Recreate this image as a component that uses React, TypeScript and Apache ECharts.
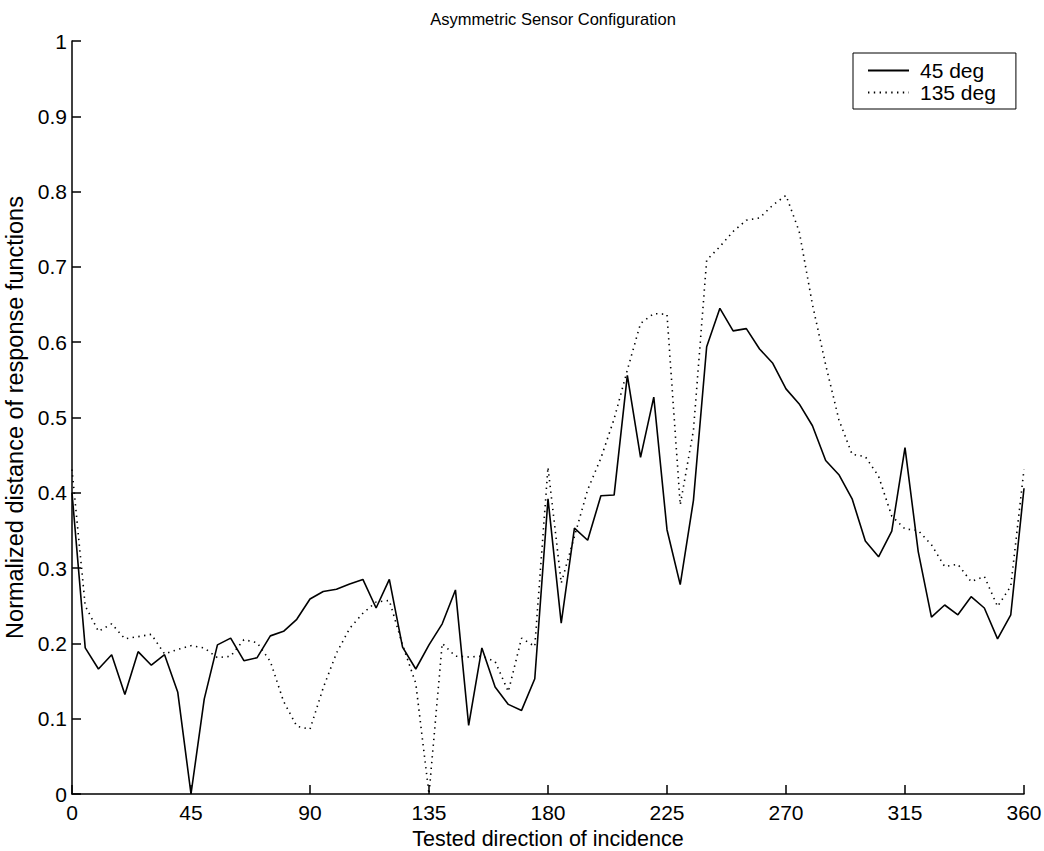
import { useRef, useEffect } from 'react';
import * as echarts from 'echarts';

// Tested direction of incidence (degrees)
const angles = [
  0, 5, 10, 15, 20, 25, 30, 35, 40, 45, 50, 55, 60, 65, 70, 75, 80, 85, 90, 95,
  100, 105, 110, 115, 120, 125, 130, 135, 140, 145, 150, 155, 160, 165, 170, 175,
  180, 185, 190, 195, 200, 205, 210, 215, 220, 225, 230, 235, 240, 245, 250, 255,
  260, 265, 270, 275, 280, 285, 290, 295, 300, 305, 310, 315, 320, 325, 330, 335,
  340, 345, 350, 355, 360,
];

// 45 deg sensor (solid)
const deg45 = [
  0.4, 0.194, 0.166, 0.185, 0.132, 0.189, 0.171, 0.185, 0.135, 0.0,
  0.126, 0.198, 0.207, 0.177, 0.181, 0.21, 0.216, 0.232, 0.259, 0.269,
  0.272, 0.279, 0.285, 0.247, 0.285, 0.195, 0.166, 0.198, 0.226, 0.271,
  0.091, 0.194, 0.142, 0.119, 0.111, 0.153, 0.392, 0.227, 0.353, 0.337,
  0.396, 0.397, 0.556, 0.447, 0.527, 0.351, 0.278, 0.39, 0.594, 0.645,
  0.615, 0.618, 0.591, 0.572, 0.538, 0.518, 0.489, 0.443, 0.424, 0.392,
  0.336, 0.315, 0.349, 0.46, 0.322, 0.235, 0.251, 0.238, 0.262, 0.247,
  0.206, 0.238, 0.406,
];

// 135 deg sensor (dotted)
const deg135 = [
  0.431, 0.25, 0.216, 0.226, 0.206, 0.209, 0.212, 0.186, 0.192, 0.197,
  0.194, 0.181, 0.183, 0.205, 0.201, 0.176, 0.123, 0.09, 0.086, 0.141,
  0.187, 0.22, 0.24, 0.255, 0.257, 0.198, 0.147, 0.0, 0.2, 0.183,
  0.182, 0.183, 0.176, 0.136, 0.207, 0.196, 0.434, 0.28, 0.342, 0.404,
  0.446, 0.498, 0.563, 0.625, 0.638, 0.637, 0.384, 0.483, 0.709, 0.727,
  0.747, 0.762, 0.765, 0.782, 0.795, 0.747, 0.65, 0.57, 0.497, 0.451,
  0.448, 0.422, 0.369, 0.352, 0.35, 0.331, 0.302, 0.305, 0.282, 0.289,
  0.249, 0.276, 0.431,
];

const FONT = 'Liberation Sans, Arial, Helvetica, sans-serif';

export default function App() {
  const chartRef = useRef<HTMLDivElement>(null);

  useEffect(() => {
    if (!chartRef.current) return;
    const chart = echarts.init(chartRef.current, undefined, { renderer: 'svg' });

    const option: any = {
      animation: false,
      backgroundColor: '#fff',
      title: {
        text: 'Asymmetric Sensor Configuration',
        left: 548,
        top: 5,
        textAlign: 'center',
        textStyle: { fontFamily: FONT, fontSize: 16.5, fontWeight: 'normal', color: '#000' },
      },
      grid: { left: 72, right: 20, top: 41, bottom: 57, outerBoundsMode: 'none', containLabel: false },
      legend: {
        left: 853,
        top: 53,
        orient: 'vertical',
        itemWidth: 41,
        itemHeight: 1,
        itemGap: 1,
        padding: [7, 20, 6, 14],
        borderColor: '#000',
        borderWidth: 1,
        backgroundColor: '#fff',
        itemStyle: { opacity: 0, borderWidth: 0 },
        textStyle: { fontFamily: FONT, fontSize: 21, color: '#000', padding: [0, 0, 0, 6] },
        data: ['45 deg', '135 deg'],
      },
      xAxis: {
        type: 'value',
        min: 0,
        max: 360,
        interval: 45,
        name: 'Tested direction of incidence',
        nameLocation: 'middle',
        nameGap: 31,
        nameTextStyle: { fontFamily: FONT, fontSize: 21.5, color: '#000' },
        axisLine: { lineStyle: { color: '#000', width: 1.5 } },
        axisTick: { inside: true, length: 9, lineStyle: { color: '#000', width: 1.5 } },
        axisLabel: { fontFamily: FONT, fontSize: 21, color: '#000', margin: 8 },
        splitLine: { show: false },
      },
      yAxis: {
        type: 'value',
        min: 0,
        max: 1,
        interval: 0.1,
        name: 'Normalized distance of response functions',
        nameLocation: 'middle',
        nameGap: 42,
        nameTextStyle: { fontFamily: FONT, fontSize: 23.5, color: '#000' },
        axisLine: { show: true, lineStyle: { color: '#000', width: 1.5 } },
        axisTick: { show: true, inside: true, length: 9, lineStyle: { color: '#000', width: 1.5 } },
        axisLabel: { fontFamily: FONT, fontSize: 21, color: '#000', margin: 5 },
        splitLine: { show: false },
      },
      series: [
        {
          name: '45 deg',
          type: 'line',
          symbol: 'none',
          data: angles.map((a, i) => [a, deg45[i]]),
          lineStyle: { color: '#000', width: 1.6, type: 'solid' },
          itemStyle: { color: '#000' },
        },
        {
          name: '135 deg',
          type: 'line',
          symbol: 'none',
          data: angles.map((a, i) => [a, deg135[i]]),
          lineStyle: { color: '#000', width: 1.6, type: [1.4, 4.4] },
          itemStyle: { color: '#000' },
        },
      ],
    };

    chart.setOption(option);
    return () => chart.dispose();
  }, []);

  return (
    <div
      ref={chartRef}
      style={{ position: 'absolute', left: 0, top: 0, width: 1044, height: 851 }}
    />
  );
}
